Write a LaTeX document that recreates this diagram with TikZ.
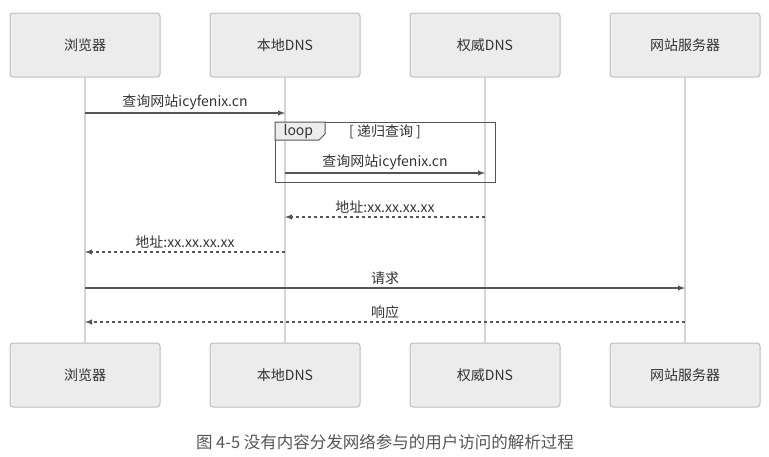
\documentclass[tikz,border=0pt]{standalone}
\usepackage{fontspec}
\setmainfont{Noto Sans CJK SC}
\usepackage{xcolor}
\usetikzlibrary{arrows}
\definecolor{boxfill}{HTML}{ECECEC}
\definecolor{boxline}{HTML}{BDBDBD}
\definecolor{lifegray}{HTML}{D4D4D4}
\definecolor{msggray}{HTML}{555555}
\definecolor{txtgray}{HTML}{333333}
\tikzset{
actor/.style={draw=boxline, fill=boxfill, rounded corners=3pt, line width=1pt,
  minimum width=150pt, minimum height=64pt, inner sep=0pt,
  font=\fontsize{14}{16}\selectfont, text=txtgray},
lifeline/.style={draw=lifegray, line width=1.5pt},
msg/.style={draw=msggray, line width=1.4pt, -latex},
reply/.style={msg, dash pattern=on 3pt off 3pt},
msglabel/.style={midway, above=2pt, inner sep=1pt, font=\fontsize{14}{16}\selectfont, text=txtgray}
}
\begin{document}
\begin{tikzpicture}[x=1pt,y=-1pt]
\useasboundingbox (0,0) rectangle (769,456);
\foreach \x/\n/\t in {85/b/浏览器,285/l/本地DNS,485/a/权威DNS,685/w/网站服务器}{
\node[actor] (top-\n) at (\x,45) {\t};
\node[actor] (bot-\n) at (\x,375) {\t};
\draw[lifeline] (top-\n) -- (bot-\n);
}
% loop frame
\draw[draw=msggray, line width=1pt] (275,122) rectangle (495,182);
\draw[draw=msggray, fill=boxfill, line width=1pt] (275,122) -- (325,122) -- (325,134) -- (319,140) -- (275,140) -- cycle;
\node[font=\fontsize{14}{16}\selectfont, text=txtgray, anchor=west] (looptag) at (280,132) {loop};
\node[font=\fontsize{14}{16}\selectfont, text=txtgray] (loopcond) at (385,132) {[ 递归查询 ]};

\draw[msg] (top-b.south |- 0,113) -- (top-l.south |- 0,113) node[msglabel]{查询网站icyfenix.cn};
\draw[msg] (top-l.south |- 0,173) -- (top-a.south |- 0,173) node[msglabel]{查询网站icyfenix.cn};
\draw[reply] (top-a.south |- 0,217) -- (top-l.south |- 0,217) node[msglabel]{地址:xx.xx.xx.xx};
\draw[reply] (top-l.south |- 0,252) -- (top-b.south |- 0,252) node[msglabel]{地址:xx.xx.xx.xx};
\draw[msg] (top-b.south |- 0,288) -- (top-w.south |- 0,288) node[msglabel]{请求};
\draw[reply] (top-w.south |- 0,322) -- (top-b.south |- 0,322) node[msglabel]{响应};

\node[font=\fontsize{16.5}{19}\selectfont, text=msggray] (caption) at (385,442) {图 4-5 没有内容分发网络参与的用户访问的解析过程};
\end{tikzpicture}
\end{document}
